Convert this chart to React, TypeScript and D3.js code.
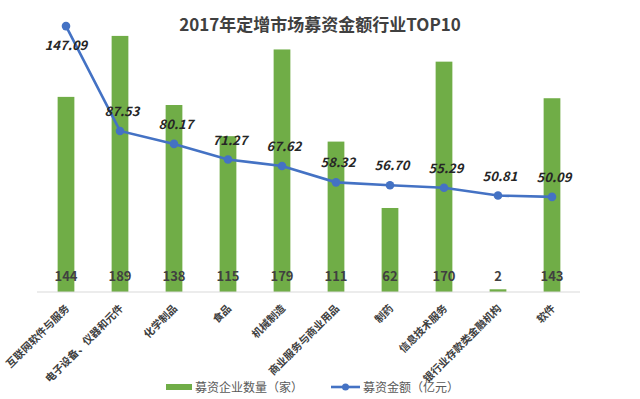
import React from "react";
import * as d3 from "d3";

const categories = [
  "互联网软件与服务",
  "电子设备、仪器和元件",
  "化学制品",
  "食品",
  "机械制造",
  "商业服务与商业用品",
  "制药",
  "信息技术服务",
  "银行业存款类金融机构",
  "软件",
];
const companyCounts = [144, 189, 138, 115, 179, 111, 62, 170, 2, 143];
const fundAmounts = [147.09, 87.53, 80.17, 71.27, 67.62, 58.32, 56.7, 55.29, 50.81, 50.09];
const titleText = "2017年定增市场募资金额行业TOP10";
const legendBar = "募资企业数量（家）";
const legendLine = "募资金额（亿元）";

const W = 640;
const H = 399;
const GREEN = "#70AD47";
const BLUE = "#4472C4";
const FONT = "'Noto Sans CJK SC', 'Noto Sans', sans-serif";

export default function App() {
  const x = d3.scaleBand<string>().domain(categories).range([39, 579]).padding(0);
  const yBar = d3.scaleLinear().domain([0, 200]).range([292, 21]);
  const yLine = d3.scaleLinear().domain([0, 150]).range([285, 21]);
  const bw = x.bandwidth();
  const barW = bw * 0.31;
  const cx = (c: string) => (x(c) as number) + bw / 2;

  const lineGen = d3
    .line<number>()
    .x((_, i) => cx(categories[i]))
    .y((d) => yLine(d));

  return (
    <>
      <style>{"body{margin:0;}"}</style>
      <svg width={W} height={H} style={{ display: "block", fontFamily: FONT }}>
        <rect width={W} height={H} fill="#fff" />
        <text
          x={320}
          y={31}
          textAnchor="middle"
          fontSize={17}
          fontWeight="bold"
          fill="#404040"
        >
          {titleText}
        </text>

        {/* bars */}
        {categories.map((c, i) => (
          <rect
            key={c}
            x={cx(c) - barW / 2}
            y={yBar(companyCounts[i])}
            width={barW}
            height={yBar(0) - yBar(companyCounts[i])}
            fill={GREEN}
          />
        ))}

        {/* axis line */}
        <line x1={37} x2={580} y1={yBar(0)} y2={yBar(0)} stroke="#d9d9d9" strokeWidth={1} />

        {/* bar labels */}
        {categories.map((c, i) => (
          <text
            key={"bl" + c}
            x={cx(c)}
            y={281}
            textAnchor="middle"
            fontSize={13}
            fontWeight="bold"
            fill="#404040"
          >
            {companyCounts[i]}
          </text>
        ))}

        {/* line */}
        <path d={lineGen(fundAmounts) || ""} fill="none" stroke={BLUE} strokeWidth={2.6} />
        {fundAmounts.map((v, i) => (
          <circle key={"p" + i} cx={cx(categories[i])} cy={yLine(v)} r={4.3} fill={BLUE} />
        ))}
        {fundAmounts.map((v, i) => (
          <text
            key={"pl" + i}
            x={cx(categories[i]) + (i === 0 ? 0 : 2)}
            y={i === 0 ? yLine(v) + 24 : yLine(v) - 15}
            textAnchor="middle"
            fontSize={13}
            fontWeight="bold"
            fontStyle="italic"
            fill="#262626"
          >
            {v.toFixed(2)}
          </text>
        ))}

        {/* category labels */}
        {categories.map((c) => (
          <text
            key={"cl" + c}
            transform={`translate(${cx(c) + 4},${309}) rotate(-45)`}
            textAnchor="end"
            fontSize={10.5}
            fontWeight="bold"
            fill="#404040"
          >
            {c}
          </text>
        ))}

        {/* legend */}
        <rect x={166} y={384} width={26} height={6} fill={GREEN} />
        <text x={195} y={391.5} fontSize={12} fill="#595959">
          {legendBar}
        </text>
        <line x1={331} x2={360} y1={387} y2={387} stroke={BLUE} strokeWidth={2.6} />
        <circle cx={345.5} cy={387} r={3.5} fill={BLUE} />
        <text x={363} y={391.5} fontSize={12} fill="#595959">
          {legendLine}
        </text>
      </svg>
    </>
  );
}
